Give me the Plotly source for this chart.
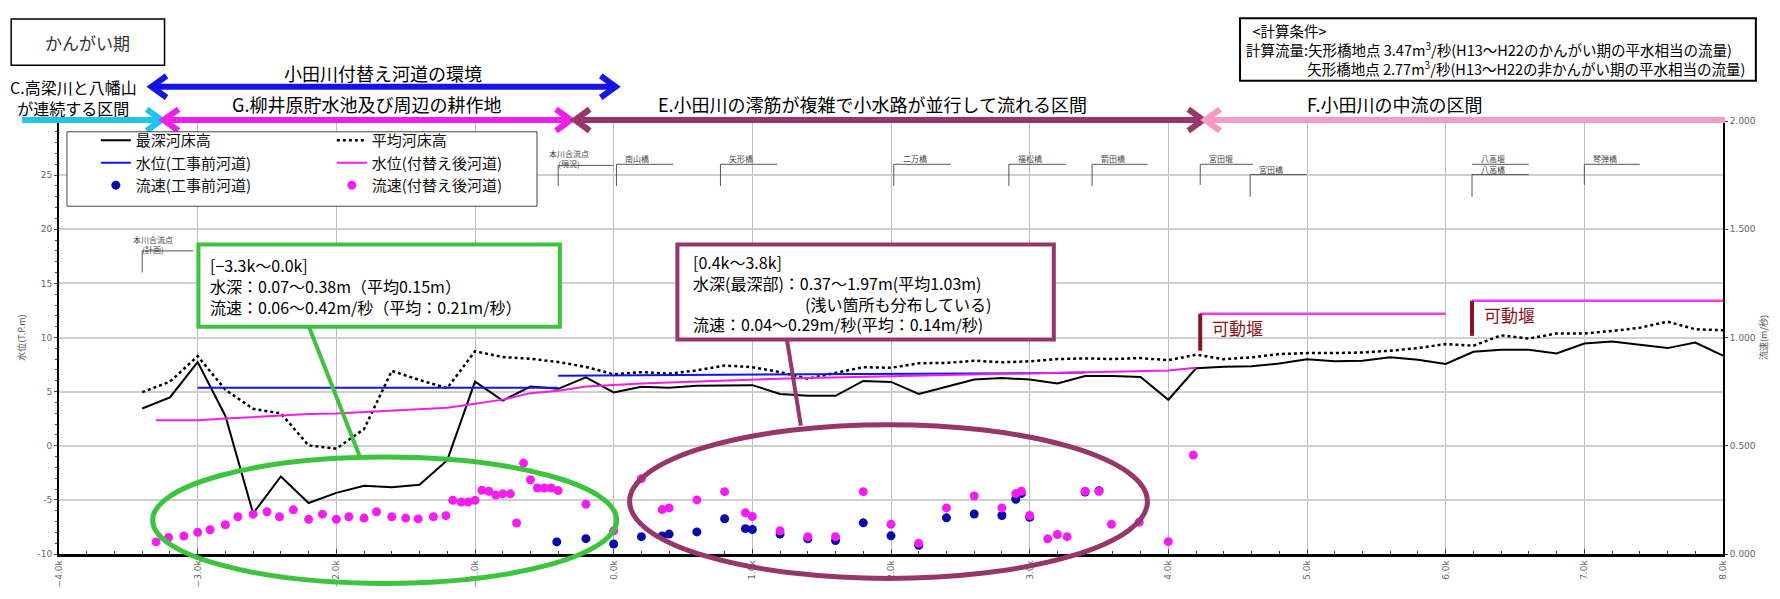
import plotly.graph_objects as go

JP = "Noto Sans CJK JP, Noto Sans, sans-serif"

# ---- longitudinal profile data (distance in km) ----
km_bed = [-3.4, -3.2, -3.0, -2.8, -2.6, -2.4, -2.2, -2.0, -1.8, -1.6, -1.4, -1.2,
          -1.0, -0.8, -0.6, -0.4, -0.2, 0.0, 0.2, 0.4, 0.6, 0.8, 1.0, 1.2, 1.4,
          1.6, 1.8, 2.0, 2.2, 2.4, 2.6, 2.8, 3.0, 3.2, 3.4, 3.6, 3.8, 4.0, 4.2,
          4.4, 4.6, 4.8, 5.0, 5.2, 5.4, 5.6, 5.8, 6.0, 6.2, 6.4, 6.6, 6.8, 7.0,
          7.2, 7.4, 7.6, 7.8, 8.0]
deepest_bed = [3.44, 4.47, 7.73, 2.75, -6.25, -2.84, -5.29, -4.35, -3.69, -3.84, -3.60, -1.33,
               5.92, 4.17, 5.47, 5.26, 6.31, 4.93, 5.45, 5.36, 5.54, 5.60, 5.60, 4.79, 4.61,
               4.61, 5.99, 5.90, 4.79, 5.45, 6.11, 6.27, 6.11, 5.75, 6.45, 6.45, 6.36, 4.25, 7.16,
               7.30, 7.34, 7.60, 8.00, 7.80, 7.86, 8.17, 7.95, 7.55, 8.68, 8.87, 8.87, 8.53, 9.45,
               9.63, 9.33, 9.02, 9.54, 8.32]
average_bed = [4.95, 5.92, 8.28, 5.17, 3.41, 2.99, 0.03, -0.27, 1.54, 6.92, 6.07, 5.32,
               8.73, 8.19, 8.04, 7.73, 7.28, 6.60, 6.80, 6.66, 6.96, 7.41, 7.26, 6.80, 6.20,
               6.72, 7.26, 7.20, 7.62, 7.65, 7.86, 7.71, 7.80, 8.01, 8.07, 8.01, 8.10, 7.90, 8.41,
               8.00, 8.17, 8.47, 8.56, 8.56, 8.62, 8.78, 9.02, 9.39, 9.24, 10.20, 9.90, 10.37, 10.37,
               10.60, 10.90, 11.47, 10.76, 10.67]

# water level, channel before construction (two computed reaches)
km_wl_before = [-3.0, -2.8, -2.6, -2.4, -2.2, -2.0, -1.8, -1.6, -1.4, -1.2, -1.0, -0.8, -0.6, -0.4,
                None,
                -0.4, -0.2, 0.0, 0.2, 0.4, 0.6, 0.8, 1.0, 1.2, 1.4, 1.6, 1.8, 2.0, 2.2, 2.4,
                2.6, 2.8, 3.0, 3.2, 3.4]
wl_before = [5.35, 5.35, 5.35, 5.35, 5.35, 5.35, 5.35, 5.35, 5.35, 5.35, 5.35, 5.35, 5.35, 5.35,
             None,
             6.47, 6.48, 6.50, 6.50, 6.52, 6.53, 6.55, 6.55, 6.56, 6.57, 6.58, 6.60, 6.60, 6.62, 6.63,
             6.65, 6.67, 6.68, 6.72, 6.76]

# water level, diverted channel
km_wl_after = [-3.3, -3.0, -2.8, -2.6, -2.4, -2.2, -2.0, -1.8, -1.6, -1.4, -1.2, -1.0, -0.8, -0.6,
               -0.4, -0.2, 0.0, 0.2, 0.4, 0.6, 0.8, 1.0, 1.2, 1.4, 1.6, 1.8, 2.0, 2.2, 2.4, 2.6,
               2.8, 3.0, 3.2, 3.4, 3.6, 3.8, 4.0, 4.2]
wl_after = [2.36, 2.36, 2.51, 2.66, 2.81, 2.93, 2.99, 3.11, 3.26, 3.35, 3.50, 3.87, 4.26, 4.86,
            5.08, 5.47, 5.62, 5.75, 5.85, 5.95, 6.05, 6.15, 6.20, 6.25, 6.30, 6.35, 6.40, 6.45, 6.50, 6.55,
            6.60, 6.65, 6.70, 6.75, 6.82, 6.90, 6.96, 7.20]

# flow velocity (m/s), channel before construction
km_v_before = [-0.41, -0.2, 0.0, 0.2, 0.35, 0.4, 0.6, 0.8, 0.95, 1.0, 1.2, 1.4, 1.6, 1.8, 2.0,
               2.2, 2.4, 2.6, 2.8, 2.9, 2.94, 3.0, 3.4, 3.5]
v_before = [0.056, 0.071, 0.046, 0.080, 0.083, 0.092, 0.102, 0.163, 0.117, 0.113, 0.092, 0.070,
            0.062, 0.144, 0.084, 0.040, 0.167, 0.185, 0.178, 0.253, 0.279, 0.170, 0.286, 0.292]

# flow velocity (m/s), diverted channel
km_v_after = [-3.3, -3.21, -3.1, -3.0, -2.91, -2.8, -2.71, -2.6, -2.5, -2.41, -2.31, -2.2, -2.1,
              -2.0, -1.91, -1.8, -1.71, -1.6, -1.5, -1.41, -1.3, -1.21, -1.16, -1.1, -1.05, -1.0,
              -0.95, -0.9, -0.85, -0.8, -0.745, -0.7, -0.65, -0.6, -0.55, -0.5, -0.45, -0.4, -0.2,
              0.0, 0.2, 0.35, 0.4, 0.6, 0.8, 0.95, 1.0, 1.2, 1.4, 1.6, 1.8, 2.0, 2.2, 2.4, 2.6,
              2.8, 2.9, 2.94, 3.0, 3.13, 3.2, 3.27, 3.4, 3.5, 3.59, 3.79, 4.0, 4.18]
v_after = [0.056, 0.076, 0.083, 0.100, 0.112, 0.135, 0.172, 0.184, 0.195, 0.172, 0.204, 0.160, 0.184,
           0.160, 0.172, 0.166, 0.195, 0.172, 0.166, 0.162, 0.172, 0.177, 0.248, 0.240, 0.240, 0.248,
           0.294, 0.290, 0.272, 0.278, 0.278, 0.143, 0.420, 0.343, 0.305, 0.305, 0.305, 0.293, 0.230,
           0.107, 0.348, 0.205, 0.213, 0.250, 0.288, 0.190, 0.173, 0.107, 0.080, 0.080, 0.288, 0.137,
           0.050, 0.213, 0.268, 0.213, 0.279, 0.290, 0.178, 0.070, 0.090, 0.080, 0.290, 0.290, 0.137,
           0.147, 0.057, 0.457]

# left axis ticks (top value left unlabelled)
level_ticks = [-10, -5, 0, 5, 10, 15, 20, 25, 30]
level_tick_text = ["-10", "-5", "0", "5", "10", "15", "20", "25", ""]

# bridges / weirs along the river: name, km, label level, stem bottom, arm end
bridge_names = ["南山橋", "矢形橋", "二万橋", "福松橋", "箭田橋", "宮田堰", "宮田橋", "八高堰", "八高橋", "琴弾橋"]
bridge_km = [0.02, 0.77, 2.02, 2.85, 3.45, 4.23, 4.59, 6.19, 6.19, 7.0]
bridge_level = [26.0, 26.0, 26.0, 26.0, 26.0, 26.0, 25.05, 26.0, 25.05, 26.0]
bridge_stem = [24.0, 24.0, 24.0, 24.0, 24.0, 24.1, 23.0, 26.0, 23.0, 24.1]
bridge_arm = [0.43, 1.18, 2.43, 3.26, 3.85, 4.61, 5.0, 6.6, 6.6, 7.4]

confluence_tags = ["(現況)", "(計画)"]
confluence_km = [-0.40, -3.40]
confluence_level = [25.9, 18.0]
confluence_stem = [24.0, 16.0]
confluence_arm = [0.0, -3.03]

weir_km = [4.23, 6.19]
weir_bottom = [8.78, 10.15]
weir_top = [12.2, 13.4]
weir_end = [6.0, 8.0]
weir_label_y = [10.9, 12.1]

# ---- page geometry ----
FIG_W, FIG_H = 1780, 599
M_L, M_R, M_T, M_B = 59, 50, 121, 36
PW = FIG_W - M_L - M_R
PH = FIG_H - M_T - M_B


def px(x):
    return (x - M_L) / PW


def py(y):
    return (FIG_H - M_B - y) / PH


C_BLUE = "#1414e6"
C_CYAN = "#22c4ee"
C_MAG = "#f01ee6"
C_MAROON = "#97366a"
C_PINK = "#f39cc8"
C_GREEN = "#3cc43c"

fig = go.Figure()

fig.add_trace(go.Scatter(x=km_bed, y=deepest_bed, mode="lines", name="最深河床高",
                         line=dict(color="black", width=2), legend="legend"))
fig.add_trace(go.Scatter(x=km_bed, y=average_bed, mode="lines", name="平均河床高",
                         line=dict(color="black", width=2.5, dash="dot"), legend="legend2"))
fig.add_trace(go.Scatter(x=km_wl_before, y=wl_before, mode="lines", name="水位(工事前河道)",
                         line=dict(color=C_BLUE, width=2), connectgaps=False, legend="legend"))
fig.add_trace(go.Scatter(x=km_wl_after, y=wl_after, mode="lines", name="水位(付替え後河道)",
                         line=dict(color=C_MAG, width=2), legend="legend2"))
fig.add_trace(go.Scatter(x=km_v_before, y=v_before, mode="markers", name="流速(工事前河道)",
                         marker=dict(color="#0a0aa8", size=9), yaxis="y2", legend="legend"))
fig.add_trace(go.Scatter(x=km_v_after, y=v_after, mode="markers", name="流速(付替え後河道)",
                         marker=dict(color="#f81cf0", size=9), yaxis="y2", legend="legend2"))

shapes = []
annotations = []


def pline(x0, y0, x1, y1, color, width):
    shapes.append(dict(type="line", xref="paper", yref="paper", x0=px(x0), y0=py(y0),
                       x1=px(x1), y1=py(y1), line=dict(color=color, width=width), layer="above"))


def ppath(points, color, width):
    d = "M " + " L ".join(f"{px(a):.5f},{py(b):.5f}" for a, b in points)
    shapes.append(dict(type="path", xref="paper", yref="paper", path=d,
                       line=dict(color=color, width=width), layer="above"))


def arrow(x0, x1, y, color, left, right, width=6, hl=15, hh=11):
    pline(x0 + (2 if left else 0), y, x1 - (2 if right else 0), y, color, width)
    if left:
        ppath([(x0 + hl, y - hh), (x0, y), (x0 + hl, y + hh)], color, width)
    if right:
        ppath([(x1 - hl, y - hh), (x1, y), (x1 - hl, y + hh)], color, width)


def ptext(x, y, text, size, color="black", xanchor="center", yanchor="middle", align="center"):
    annotations.append(dict(x=px(x), y=py(y), xref="paper", yref="paper", text=text,
                            showarrow=False, xanchor=xanchor, yanchor=yanchor, align=align,
                            font=dict(family=JP, size=size, color=color)))


def prect(x0, y0, x1, y1, color, width, fill="white"):
    shapes.append(dict(type="rect", xref="paper", yref="paper", x0=px(x0), y0=py(y0),
                       x1=px(x1), y1=py(y1), line=dict(color=color, width=width),
                       fillcolor=fill, layer="above"))


# section arrows above the plot
arrow(152, 618, 86, C_BLUE, True, True)
ptext(384, 72, "小田川付替え河道の環境", 18)
arrow(22, 162, 120, C_CYAN, False, True)
ptext(74, 97, "C.高梁川と八幡山<br>が連続する区間", 16)
arrow(164, 573, 120, C_MAG, True, True)
ptext(368, 104, "G.柳井原貯水池及び周辺の耕作地", 18)
arrow(577, 1208, 120, C_MAROON, True, True)
ptext(876, 104, "E.小田川の澪筋が複雑で小水路が並行して流れる区間", 18)
arrow(1210, 1732, 120, C_PINK, True, False)
ptext(1400, 104, "F.小田川の中流の区間", 18)

# period label and calculation-condition boxes
prect(11, 17, 165, 64, "black", 1.5)
ptext(88, 41, "かんがい期", 17, "#333")
prect(1245, 16, 1763, 80, "black", 2)
ptext(1249, 48,
      "&nbsp;&nbsp;<計算条件><br>"
      "計算流量:矢形橋地点 3.47m<sup>3</sup>/秒(H13～H22のかんがい期の平水相当の流量)<br>"
      "　　　　 矢形橋地点 2.77m<sup>3</sup>/秒(H13～H22の非かんがい期の平水相当の流量)",
      14.5, xanchor="left", align="left")

# legend frame
prect(67, 132, 539, 208, "#444", 1)

# callout for the diverted reach
pline(310, 331, 362, 466, C_GREEN, 4)
shapes.append(dict(type="circle", xref="paper", yref="paper", x0=px(153), x1=px(619),
                   y0=py(593), y1=py(464), line=dict(color=C_GREEN, width=5), layer="above"))
prect(199, 247, 562, 331, C_GREEN, 4)
ptext(209, 289, "[−3.3k～0.0k]<br>水深：0.07～0.38m（平均0.15m）<br>流速：0.06～0.42m/秒（平均：0.21m/秒）",
      16, xanchor="left", align="left")

# callout for the braided reach
pline(790, 344, 804, 432, C_MAROON, 4)
shapes.append(dict(type="circle", xref="paper", yref="paper", x0=px(632), x1=px(1152),
                   y0=py(588), y1=py(431), line=dict(color=C_MAROON, width=5), layer="above"))
prect(680, 247, 1058, 344, C_MAROON, 4)
ptext(694, 297,
      "[0.4k～3.8k]<br>水深(最深部)：0.37～1.97m(平均1.03m)<br>"
      "　　　　　　　(浅い箇所も分布している)<br>流速：0.04～0.29m/秒(平均：0.14m/秒)",
      16, xanchor="left", align="left")

# bridge markers in data coordinates
for name, k, lev, stem, arm in zip(bridge_names, bridge_km, bridge_level, bridge_stem, bridge_arm):
    shapes.append(dict(type="line", xref="x", yref="y", x0=k, x1=arm, y0=lev, y1=lev,
                       line=dict(color="#555", width=1)))
    if stem < lev:
        shapes.append(dict(type="line", xref="x", yref="y", x0=k, x1=k, y0=lev, y1=stem,
                           line=dict(color="#555", width=1)))
    annotations.append(dict(x=k + 0.05, y=lev, xref="x", yref="y", text=name, showarrow=False,
                            xanchor="left", yanchor="bottom", yshift=-2,
                            font=dict(family=JP, size=8, color="#444")))

for tag, k, lev, stem, arm in zip(confluence_tags, confluence_km, confluence_level,
                                  confluence_stem, confluence_arm):
    shapes.append(dict(type="line", xref="x", yref="y", x0=k, x1=arm, y0=lev, y1=lev,
                       line=dict(color="#555", width=1)))
    shapes.append(dict(type="line", xref="x", yref="y", x0=k, x1=k, y0=lev, y1=stem,
                       line=dict(color="#555", width=1)))
    annotations.append(dict(x=k + 0.08, y=lev + 0.6, xref="x", yref="y",
                            text="本川合流点<br>" + tag, showarrow=False, yanchor="middle",
                            font=dict(family=JP, size=8, color="#444")))

# movable weirs
for k, lo, hi, end, ly in zip(weir_km, weir_bottom, weir_top, weir_end, weir_label_y):
    shapes.append(dict(type="line", xref="x", yref="y", x0=k, x1=end, y0=hi, y1=hi,
                       line=dict(color="#f03cf0", width=2.5)))
    shapes.append(dict(type="line", xref="x", yref="y", x0=k, x1=k, y0=lo, y1=hi,
                       line=dict(color="#8b1420", width=4)))
    annotations.append(dict(x=k + 0.07, y=ly, xref="x", yref="y", text="可動堰", showarrow=False,
                            xanchor="left", font=dict(family=JP, size=17, color="#8b1420")))

tick_font = dict(family="DejaVu Sans, sans-serif", size=9, color="#666")
title_font = dict(family=JP, size=9, color="#555")

fig.update_layout(
    width=FIG_W, height=FIG_H,
    margin=dict(l=M_L, r=M_R, t=M_T, b=M_B, pad=0),
    paper_bgcolor="white", plot_bgcolor="white",
    font=dict(family=JP),
    showlegend=True,
    legend=dict(x=px(96), y=py(124), xanchor="left", yanchor="top", bgcolor="rgba(0,0,0,0)",
                font=dict(family=JP, size=15, color="#111"), tracegroupgap=0, itemwidth=30),
    legend2=dict(x=px(333), y=py(124), xanchor="left", yanchor="top", bgcolor="rgba(0,0,0,0)",
                 font=dict(family=JP, size=15, color="#111"), tracegroupgap=0, itemwidth=30),
    xaxis=dict(range=[-4, 8], tick0=-4, dtick=1, tickformat=".1f", ticksuffix="k",
               tickangle=-90, tickfont=tick_font, showgrid=True, gridcolor="#bdbdbd", gridwidth=1,
               zeroline=False, showline=True, linecolor="black", linewidth=2.5,
               ticks="inside", ticklen=5, tickcolor="#444",
               minor=dict(tickmode="linear", tick0=-4, dtick=0.2, ticks="inside", ticklen=3,
                          tickcolor="#444", showgrid=False)),
    yaxis=dict(range=[-10, 30], tickmode="array", tickvals=level_ticks, ticktext=level_tick_text,
               tickfont=tick_font, showgrid=True,
               gridcolor="#cfcfcf", gridwidth=1.5, zeroline=False, showline=True,
               linecolor="black", linewidth=2, ticks="outside", ticklen=3, tickcolor="#444",
               minor=dict(tickmode="linear", tick0=-10, dtick=1, ticks="outside", ticklen=2,
                          tickcolor="#444", showgrid=False),
               title=dict(text="水位(T.P.m)", font=title_font, standoff=10)),
    yaxis2=dict(range=[0, 2], tick0=0, dtick=0.5, tickformat=".3f", overlaying="y", side="right",
                tickfont=tick_font, showgrid=False, zeroline=False, showline=True,
                linecolor="black", linewidth=2, ticks="outside", ticklen=3, tickcolor="#444",
                title=dict(text="流速(m/秒)", font=title_font, standoff=6)),
    shapes=shapes,
    annotations=annotations,
)

fig.write_html("out.html")
